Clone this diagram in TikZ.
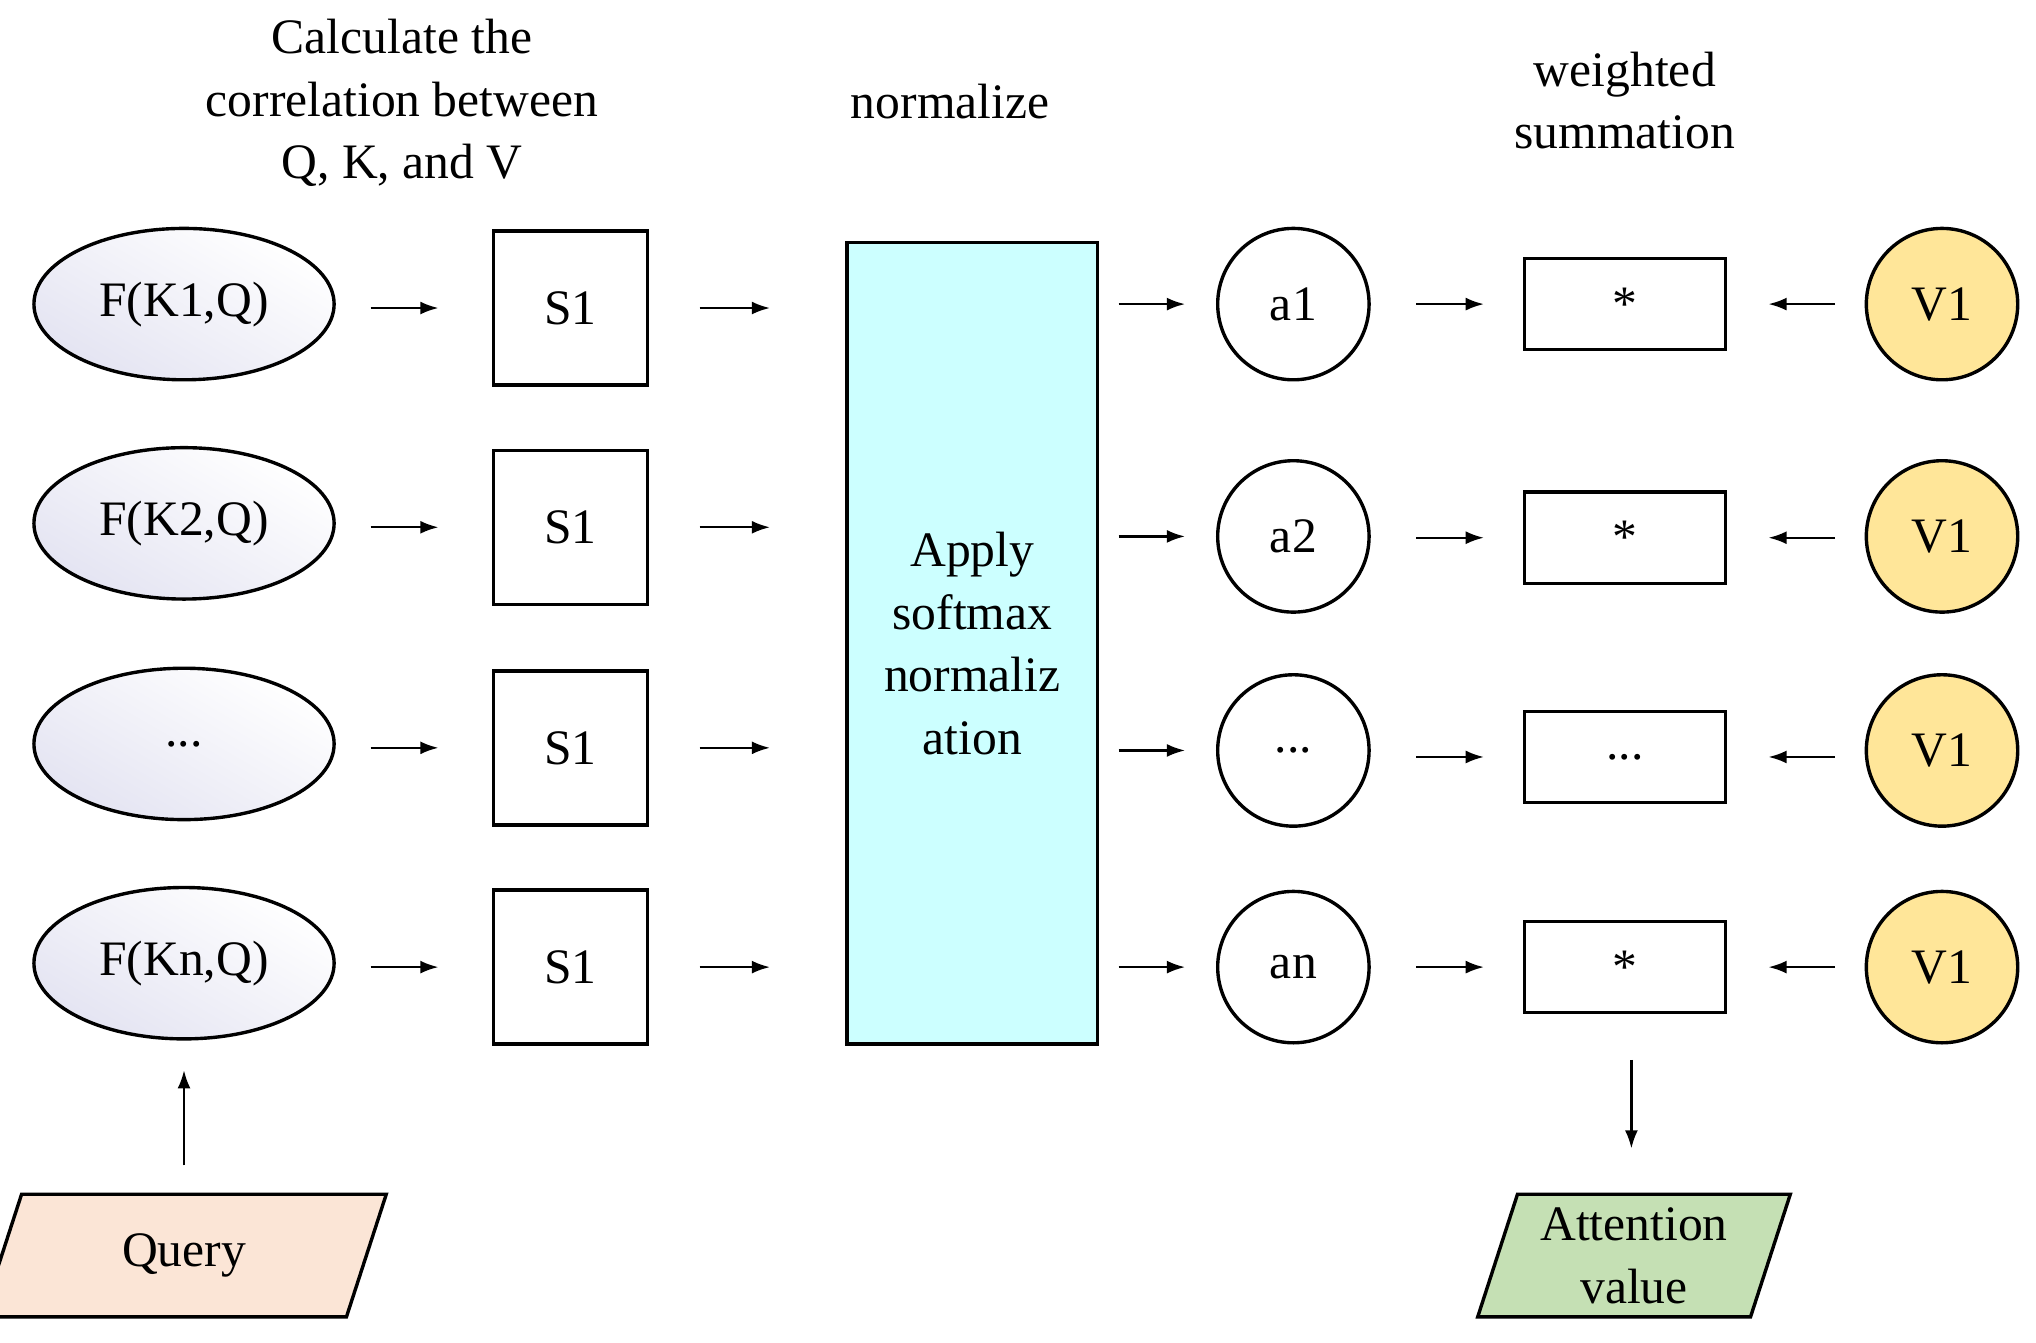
\documentclass[tikz,border=0pt]{standalone}
\usepackage{fontspec}
\setmainfont{Liberation Serif}
\usetikzlibrary{arrows.meta,shapes.geometric}
\definecolor{lav}{HTML}{E4E4F2}
\definecolor{cy}{HTML}{CCFFFF}
\definecolor{vy}{HTML}{FFE699}
\definecolor{qp}{HTML}{FBE5D6}
\definecolor{ag}{HTML}{C5E0B4}
\newcommand\mydots{...}
\begin{document}
\begin{tikzpicture}[x=0.5pt,y=-0.5pt,line width=1.3pt,
  every node/.style={font=\fontsize{19}{24}\selectfont},
  ell/.style={ellipse,draw,minimum width=115pt,minimum height=58pt,top color=white,bottom color=lav,shading angle=-30},
  sq/.style={draw,minimum width=59pt,minimum height=59pt},
  circ/.style={circle,draw,minimum size=58pt},
  vc/.style={circle,draw,fill=vy,minimum size=58pt},
  star/.style={draw,minimum width=77pt,minimum height=35pt},
  par/.style={trapezium,trapezium left angle=72,trapezium right angle=108,draw,minimum width=100pt,minimum height=47pt,align=center,inner sep=1pt},
  ar/.style={-{Latex[length=7pt,width=5pt]},line width=0.9pt}]
\useasboundingbox (0,0) rectangle (1560,1029);
\node[align=center] (t1) at (308,79) {Calculate the\\correlation between\\Q, K, and V};
\node (t2) at (728,78) {normalize};
\node[align=center] (t3) at (1245,77) {weighted\\summation};
\node[draw,fill=cy,minimum width=96pt,minimum height=307pt,align=center] (sm) at (745,493) {Apply\\softmax\\normaliz\\ation};
\foreach \i/\ye/\ys/\ya/\yr/\lab/\al/\sl in {1/233/236/233/233/F(K1{,}Q)/a1/*,2/401/404/411/412/F(K2{,}Q)/a2/*,3/570/573/575/580/\mydots/\mydots/\mydots,4/738/741/741/741/F(Kn{,}Q)/an/*}{
  \node[ell] (e\i) at (141,\ye) {\lab};
  \node[sq] (s\i) at (437,\ys) {S1};
  \node[circ] (a\i) at (991,\ya) {\al};
  \node[star] (r\i) at (1245,\yr) {\sl};
  \node[vc] (v\i) at (1488,\ya) {V1};
  \coordinate (p\i) at (284,\ys); \coordinate (q\i) at (336,\ys);
  \coordinate (p2\i) at (536,\ys); \coordinate (q2\i) at (590,\ys);
  \coordinate (p3\i) at (857,\ya); \coordinate (q3\i) at (908,\ya);
  \coordinate (p4\i) at (1085,\yr); \coordinate (q4\i) at (1137,\yr);
  \coordinate (p5\i) at (1406,\yr); \coordinate (q5\i) at (1355,\yr);
  \draw[ar] (p\i) -- (q\i);
  \draw[ar] (p2\i) -- (q2\i);
  \draw[ar] (p3\i) -- (q3\i);
  \draw[ar] (p4\i) -- (q4\i);
  \draw[ar] (p5\i) -- (q5\i);
}
\node[par,fill=qp] (qu) at (141,962) {Query};
\node[par,fill=ag,minimum width=112pt] (at) at (1252,962) {Attention\\value};
\coordinate (u1) at (141,893); \coordinate (u2) at (141,820);
\draw[ar] (u1) -- (u2);
\coordinate (d1) at (1250,812); \coordinate (d2) at (1250,880);
\draw[ar] (d1) -- (d2);
\end{tikzpicture}
\end{document}
